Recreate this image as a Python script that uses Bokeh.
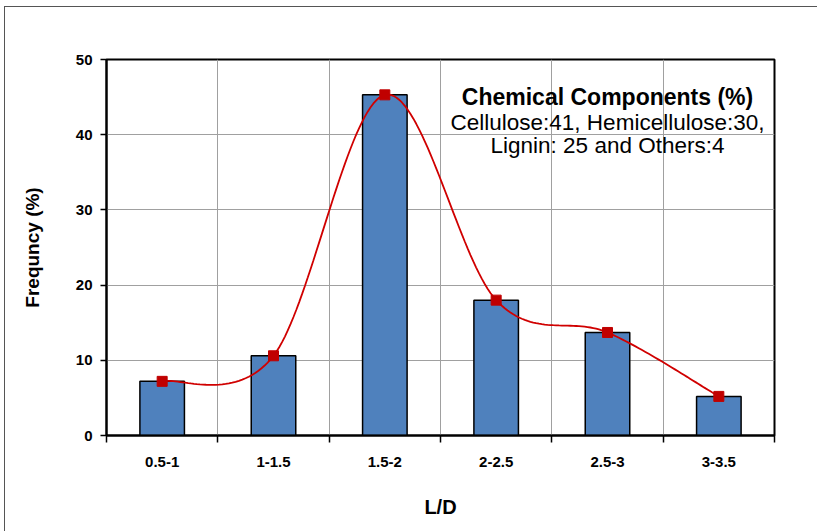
import numpy as np
from bokeh.plotting import figure
from bokeh.models import FixedTicker, Label, Range1d
from bokeh.embed import file_html
from bokeh.resources import INLINE

categories = ["0.5-1", "1-1.5", "1.5-2", "2-2.5", "2.5-3", "3-3.5"]
frequency = [7.2, 10.6, 45.3, 18.0, 13.7, 5.2]
y_ticks = [0, 10, 20, 30, 40, 50]
note_title = "Chemical Components (%)"
note_lines = ["Cellulose:41, Hemicellulose:30,", "Lignin: 25 and Others:4"]

n = len(categories)
xc = [i + 0.5 for i in range(n)]

p = figure(width=813, height=525, output_backend="svg", toolbar_location=None,
           x_range=Range1d(0, n), y_range=Range1d(0, 50),
           min_border_left=101, min_border_right=44, min_border_top=52, min_border_bottom=97)
p.styles = {"margin-left": "4px", "margin-top": "6px",
            "border-left": "1px solid #555555", "border-top": "1px solid #555555"}
p.background_fill_color = "white"
p.border_fill_color = "white"
p.outline_line_color = "black"
p.outline_line_width = 2

# bars
p.vbar(x=xc, top=frequency, width=0.4, fill_color="#4F81BD", line_color="black", line_width=1.5)

# smoothed curve (Excel-like bezier smoothing through data points)
px = np.array(xc, dtype=float)
py = np.array(frequency, dtype=float)
cx, cy = [], []
t = np.linspace(0, 1, 40)
for i in range(n - 1):
    p0 = np.array([px[max(i - 1, 0)], py[max(i - 1, 0)]])
    p1 = np.array([px[i], py[i]])
    p2 = np.array([px[i + 1], py[i + 1]])
    p3 = np.array([px[min(i + 2, n - 1)], py[min(i + 2, n - 1)]])
    c1 = p1 + (p2 - p0) / 6.0
    c2 = p2 - (p3 - p1) / 6.0
    for tt in t:
        b = ((1 - tt) ** 3) * p1 + 3 * ((1 - tt) ** 2) * tt * c1 + 3 * (1 - tt) * tt ** 2 * c2 + tt ** 3 * p2
        cx.append(b[0]); cy.append(b[1])
p.line(cx, cy, line_color="#D00000", line_width=1.8)
p.scatter(xc, frequency, marker="square", size=10, fill_color="#C00000", line_color="#C00000")

# axes
p.xaxis.ticker = FixedTicker(ticks=xc, minor_ticks=list(range(n + 1)))
p.xaxis.major_label_overrides = {x: c for x, c in zip(xc, categories)}
p.xaxis.major_tick_out = 0
p.xaxis.major_tick_in = 0
p.xaxis.minor_tick_out = 7
p.xaxis.minor_tick_in = 0
p.xaxis.minor_tick_line_color = "black"
p.xaxis.minor_tick_line_width = 1.5
p.xaxis.axis_line_width = 2
p.xaxis.major_label_text_font = "Liberation Sans"
p.xaxis.major_label_text_font_style = "bold"
p.xaxis.major_label_text_font_size = "15px"
p.xaxis.major_label_text_color = "black"
p.xaxis.major_label_standoff = 14
p.xaxis.axis_label = "L/D"
p.xaxis.axis_label_text_font = "Liberation Sans"
p.xaxis.axis_label_text_font_size = "20px"
p.xaxis.axis_label_text_font_style = "bold"
p.xaxis.axis_label_text_color = "black"
p.xaxis.axis_label_standoff = 26

p.yaxis.ticker = FixedTicker(ticks=y_ticks)
p.yaxis.major_tick_out = 6
p.yaxis.major_tick_in = 0
p.yaxis.major_tick_line_width = 1.5
p.yaxis.minor_tick_line_color = None
p.yaxis.axis_line_width = 2
p.yaxis.major_label_text_font = "Liberation Sans"
p.yaxis.major_label_text_font_style = "bold"
p.yaxis.major_label_text_font_size = "15px"
p.yaxis.major_label_text_color = "black"
p.yaxis.major_label_standoff = 8
p.yaxis.axis_label = "Frequncy (%)"
p.yaxis.axis_label_text_font = "Liberation Sans"
p.yaxis.axis_label_text_font_size = "19px"
p.yaxis.axis_label_text_font_style = "bold"
p.yaxis.axis_label_text_color = "black"
p.yaxis.axis_label_standoff = 30

p.xgrid.ticker = FixedTicker(ticks=list(range(n + 1)))
p.ygrid.ticker = FixedTicker(ticks=y_ticks)
p.xgrid.grid_line_color = "#a0a0a0"
p.ygrid.grid_line_color = "#a0a0a0"
p.xgrid.grid_line_width = 1
p.ygrid.grid_line_width = 1

# annotation text
p.add_layout(Label(x=4.5, y=45.0, text=note_title, text_align="center", text_baseline="middle",
                   text_font="Liberation Sans", text_font_style="bold", text_font_size="23px",
                   text_color="black"))
for line, yy in zip(note_lines, [41.6, 38.6]):
    p.add_layout(Label(x=4.5, y=yy, text=line, text_align="center", text_baseline="middle",
                       text_font="Liberation Sans", text_font_size="22.5px", text_color="black"))

open("out.html", "w").write(file_html(p, INLINE))
